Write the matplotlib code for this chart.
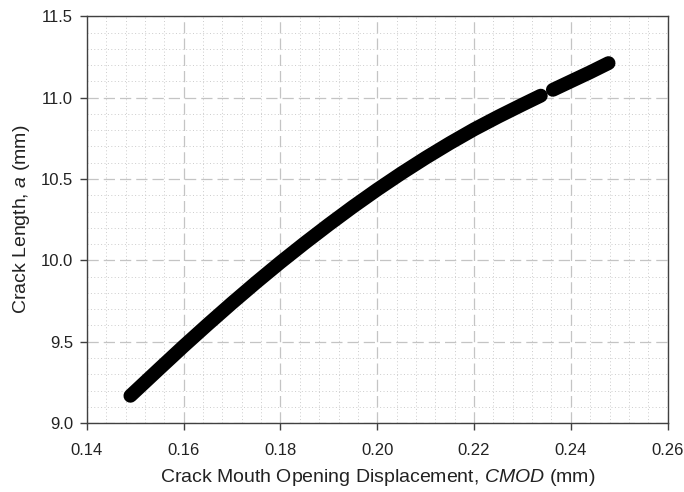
import matplotlib
matplotlib.use("Agg")
import matplotlib.pyplot as plt
from matplotlib.ticker import MultipleLocator

plt.rcParams['font.family'] = ['Liberation Sans', 'DejaVu Sans']
plt.rcParams['mathtext.fontset'] = 'custom'
plt.rcParams['mathtext.rm'] = 'Liberation Sans'
plt.rcParams['mathtext.it'] = 'Liberation Sans:italic'

# CMOD (mm) vs crack length a (mm)
cmod_1 = [0.149, 0.155, 0.160, 0.165, 0.170, 0.175, 0.180, 0.185, 0.190,
          0.195, 0.200, 0.205, 0.210, 0.215, 0.220, 0.225, 0.230, 0.2338]
crack_1 = [9.168, 9.335, 9.473, 9.607, 9.738, 9.865, 9.988, 10.106, 10.220,
           10.330, 10.435, 10.535, 10.630, 10.720, 10.805, 10.883, 10.957, 11.012]
# second run of points, after the small gap
cmod_2 = [0.2363, 0.240, 0.244, 0.2478]
crack_2 = [11.048, 11.100, 11.156, 11.212]

x_ticks = [0.14, 0.16, 0.18, 0.20, 0.22, 0.24, 0.26]
y_ticks = [9.0, 9.5, 10.0, 10.5, 11.0, 11.5]

fig = plt.figure(figsize=(6.84, 4.92), dpi=100)
ax = fig.add_axes([0.127, 0.140, 0.849, 0.827])

ax.plot(cmod_1, crack_1, '-', color='black', lw=10, solid_capstyle='round',
        solid_joinstyle='round', zorder=3)
ax.plot(cmod_2, crack_2, '-', color='black', lw=10, solid_capstyle='round',
        solid_joinstyle='round', zorder=3)

ax.set_xlim(0.14, 0.26)
ax.set_ylim(9.0, 11.5)
ax.set_xticks(x_ticks)
ax.set_yticks(y_ticks)
ax.set_xticklabels(['%.2f' % v for v in x_ticks])
ax.set_yticklabels(['%.1f' % v for v in y_ticks])
ax.xaxis.set_minor_locator(MultipleLocator(0.004))
ax.yaxis.set_minor_locator(MultipleLocator(0.1))

ax.grid(which='major', color='#c4c4c4', lw=0.9, linestyle=(0, (9, 4)), zorder=1)
ax.grid(which='minor', color='#cccccc', lw=0.7, linestyle=(0, (1, 2.5)), zorder=0)

ax.tick_params(which='major', direction='out', length=5, width=1, color='#404040',
               labelsize=12, pad=5, labelcolor='#222222')
ax.tick_params(axis='x', which='major', pad=9)
ax.tick_params(which='minor', length=0)
for s in ax.spines.values():
    s.set_color('#404040')
    s.set_linewidth(1.0)

ax.set_xlabel('Crack Mouth Opening Displacement, $CMOD$ (mm)', fontsize=14, labelpad=7,
              color='#222222')
ax.set_ylabel('Crack Length, $a$ (mm)', fontsize=14, labelpad=6, color='#222222')

fig.savefig('out.png', dpi=100)
